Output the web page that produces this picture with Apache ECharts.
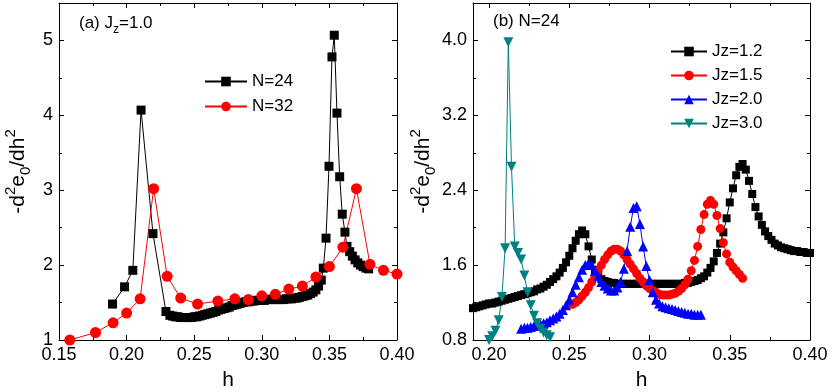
<!DOCTYPE html>
<html>
<head>
<meta charset="utf-8">
<title>-d2e0/dh2 vs h</title>
<script src="https://cdn.jsdelivr.net/npm/echarts@6/dist/echarts.min.js"></script>
<style>
    html, body { margin: 0; padding: 0; background: #fff; }
    #main { width: 830px; height: 392px; }
</style>
</head>
<body>
<div id="main"></div>
<script>
    // ---- panel (a): Jz = 1.0 ----
    var hN24 = [0.1896, 0.1985, 0.2046, 0.2107, 0.2195, 0.2291,
        0.232, 0.234, 0.236, 0.238, 0.240, 0.242, 0.244, 0.246, 0.248, 0.250,
        0.252, 0.254, 0.256, 0.258, 0.260, 0.262, 0.264, 0.266, 0.268, 0.270,
        0.272, 0.274, 0.276, 0.278, 0.280, 0.282, 0.284, 0.286, 0.288, 0.290,
        0.292, 0.294, 0.296, 0.298, 0.300, 0.302, 0.304, 0.306, 0.308, 0.310,
        0.312, 0.314, 0.316, 0.318, 0.320, 0.322, 0.324, 0.326, 0.328, 0.330,
        0.332, 0.334, 0.336, 0.338, 0.340, 0.342, 0.344,
        0.3455, 0.3475, 0.3497, 0.3519, 0.3536, 0.3556, 0.3576, 0.3595, 0.3615,
        0.363, 0.365, 0.367, 0.369, 0.371, 0.373, 0.375, 0.377, 0.379];
    var vN24 = [1.48, 1.71, 1.93, 4.07, 2.42, 1.38,
        1.33, 1.32, 1.31, 1.31, 1.30, 1.30, 1.30, 1.30, 1.30, 1.31,
        1.31, 1.32, 1.33, 1.34, 1.35, 1.36, 1.37, 1.38, 1.40, 1.41,
        1.42, 1.43, 1.44, 1.46, 1.47, 1.48, 1.49, 1.50, 1.51, 1.51,
        1.52, 1.52, 1.53, 1.53, 1.53, 1.53, 1.54, 1.54, 1.54, 1.54,
        1.54, 1.54, 1.54, 1.55, 1.55, 1.55, 1.56, 1.56, 1.57, 1.58,
        1.59, 1.60, 1.62, 1.64, 1.67, 1.72, 1.80,
        1.96, 2.36, 3.32, 4.78, 5.07, 4.03, 3.18, 2.68, 2.44,
        2.25, 2.18, 2.12, 2.07, 2.03, 2.00, 1.98, 1.96, 1.95];

    var hN32 = [0.158, 0.177, 0.190, 0.200, 0.210, 0.220, 0.230, 0.240, 0.2525, 0.2675, 0.280, 0.290,
        0.300, 0.310, 0.320, 0.330, 0.340, 0.350, 0.360, 0.370, 0.380, 0.390, 0.400];
    var vN32 = [1.00, 1.10, 1.23, 1.36, 1.55, 3.02, 1.85, 1.56, 1.48, 1.52, 1.55, 1.54,
        1.59, 1.61, 1.68, 1.72, 1.84, 1.98, 2.24, 3.02, 2.01, 1.93, 1.88];

    // ---- panel (b): N = 24 ----
    var hJz12 = [0.190, 0.192, 0.194, 0.196, 0.198, 0.200, 0.202, 0.204, 0.206, 0.208,
        0.210, 0.212, 0.214, 0.216, 0.218, 0.220, 0.222, 0.224, 0.226, 0.228,
        0.230, 0.232, 0.234, 0.236, 0.238, 0.240, 0.242, 0.244, 0.246, 0.248,
        0.250, 0.252, 0.254, 0.256, 0.258, 0.260, 0.262, 0.264, 0.266, 0.268,
        0.270, 0.272, 0.274, 0.276, 0.278, 0.280, 0.282, 0.284, 0.286, 0.288,
        0.290, 0.292, 0.294, 0.296, 0.298, 0.300, 0.302, 0.304, 0.306, 0.308,
        0.310, 0.312, 0.314, 0.316, 0.318, 0.320, 0.322, 0.324, 0.326, 0.328,
        0.330, 0.332, 0.334, 0.336, 0.338, 0.340, 0.342, 0.344, 0.346, 0.348,
        0.350, 0.352, 0.354, 0.356, 0.358, 0.360, 0.362, 0.364, 0.366, 0.368,
        0.370, 0.372, 0.374, 0.376, 0.378, 0.380, 0.382, 0.384, 0.386, 0.388,
        0.390, 0.392, 0.394, 0.396, 0.398, 0.400];
    var vJz12 = [1.14, 1.15, 1.16, 1.17, 1.18, 1.19, 1.19, 1.20, 1.21, 1.22,
        1.23, 1.24, 1.25, 1.26, 1.27, 1.28, 1.29, 1.30, 1.31, 1.32,
        1.34, 1.35, 1.37, 1.39, 1.42, 1.45, 1.48, 1.52, 1.57, 1.63,
        1.70, 1.78, 1.86, 1.93, 1.97, 1.93, 1.80, 1.66, 1.55, 1.48,
        1.45, 1.43, 1.42, 1.41, 1.41, 1.40, 1.40, 1.40, 1.40, 1.40,
        1.40, 1.40, 1.40, 1.40, 1.40, 1.40, 1.40, 1.40, 1.40, 1.40,
        1.40, 1.40, 1.40, 1.40, 1.40, 1.40, 1.41, 1.41, 1.42, 1.43,
        1.44, 1.46, 1.48, 1.52, 1.57, 1.64, 1.73, 1.83, 1.95, 2.10,
        2.27, 2.42, 2.56, 2.65, 2.68, 2.62, 2.50, 2.36, 2.22, 2.12,
        2.03, 1.96, 1.91, 1.87, 1.83, 1.81, 1.79, 1.78, 1.77, 1.76,
        1.75, 1.75, 1.74, 1.74, 1.73, 1.73];

    var hJz15 = [0.252, 0.254, 0.256, 0.258, 0.260, 0.262, 0.264, 0.266, 0.268, 0.270,
        0.272, 0.274, 0.276, 0.278, 0.280, 0.282, 0.284, 0.286, 0.288, 0.290,
        0.292, 0.294, 0.296, 0.298, 0.300, 0.302, 0.304, 0.306, 0.308, 0.310,
        0.312, 0.314, 0.316, 0.318, 0.320, 0.322, 0.324, 0.326, 0.328, 0.330,
        0.332, 0.334, 0.336, 0.338, 0.340, 0.342, 0.344, 0.346, 0.348, 0.350,
        0.352, 0.354, 0.356, 0.358];
    var vJz15 = [1.18, 1.20, 1.23, 1.27, 1.31, 1.36, 1.42, 1.48, 1.54, 1.60,
        1.66, 1.71, 1.75, 1.77, 1.77, 1.75, 1.71, 1.66, 1.61, 1.56,
        1.51, 1.46, 1.42, 1.38, 1.35, 1.33, 1.31, 1.29, 1.28, 1.28,
        1.28, 1.29, 1.30, 1.32, 1.35, 1.39, 1.45, 1.54, 1.65, 1.80,
        1.98, 2.14, 2.25, 2.29, 2.25, 2.13, 1.99, 1.84, 1.72, 1.63,
        1.58, 1.54, 1.50, 1.46];

    var hJz20 = [0.220, 0.222, 0.224, 0.226, 0.228, 0.230, 0.232, 0.234, 0.236, 0.238,
        0.240, 0.242, 0.244, 0.246, 0.248, 0.250, 0.252, 0.254, 0.256, 0.258,
        0.260, 0.262, 0.264, 0.266, 0.268, 0.270, 0.272, 0.274, 0.276, 0.278,
        0.280, 0.282, 0.284, 0.286, 0.288, 0.290, 0.292, 0.294, 0.296, 0.298,
        0.300, 0.302, 0.304, 0.306, 0.308, 0.310, 0.312, 0.314, 0.316, 0.318,
        0.320, 0.322, 0.324, 0.326, 0.328, 0.330, 0.332];
    var vJz20 = [0.92, 0.93, 0.93, 0.94, 0.95, 0.96, 0.97, 0.98, 0.99, 1.01,
        1.03, 1.05, 1.08, 1.12, 1.17, 1.23, 1.31, 1.39, 1.47, 1.55,
        1.60, 1.62, 1.60, 1.54, 1.48, 1.42, 1.38, 1.35, 1.33, 1.33,
        1.36, 1.42, 1.56, 1.75, 2.01, 2.21, 2.23, 2.04, 1.80, 1.59,
        1.44, 1.31, 1.23, 1.19, 1.16, 1.15, 1.14, 1.13, 1.12, 1.11,
        1.10, 1.09, 1.08, 1.08, 1.07, 1.07, 1.07];

    var hJz30 = [0.200, 0.202, 0.204, 0.206, 0.208, 0.210, 0.212, 0.214, 0.216, 0.218,
        0.220, 0.222, 0.224, 0.226, 0.228, 0.230, 0.232, 0.234, 0.236, 0.238];
    var vJz30 = [0.80, 0.84, 0.90, 1.01, 1.26, 1.78, 3.98, 2.65, 1.80, 1.73,
        1.66, 1.49, 1.31, 1.17, 1.06, 0.98, 0.92, 0.88, 0.85, 0.83];

    var FONT = '"Liberation Sans", Arial, Helvetica, sans-serif';

    function pairs(h, v) {
        var out = [];
        for (var i = 0; i < h.length; i++) {
            out.push([h[i], v[i]]);
        }
        return out;
    }

    var tickStyle = {inside: true, length: 5, lineStyle: {color: '#000'}};
    var minorStyle = {show: true, splitNumber: 2, length: 3, lineStyle: {color: '#000'}};
    var lineAxis = {onZero: false, lineStyle: {color: '#000', width: 1}};

    function fmt(digits) {
        return function (v) { return v.toFixed(digits); };
    }

    function xAxes(grid, min, max, extra) {
        var main = {
            gridIndex: grid, type: 'value', min: min, max: max, position: 'bottom',
            axisLine: lineAxis, axisTick: tickStyle, minorTick: minorStyle,
            splitLine: {show: false},
            axisLabel: {color: '#000', fontSize: 18, fontFamily: FONT, margin: 6,
                showMinLabel: grid === 0, formatter: fmt(2)},
            name: 'h', nameLocation: 'middle', nameGap: 30,
            nameTextStyle: {color: '#000', fontSize: 21, fontFamily: FONT}
        };
        var mirror = {
            gridIndex: grid, type: 'value', min: min, max: max, position: 'top',
            axisLine: lineAxis, axisTick: tickStyle, minorTick: minorStyle,
            splitLine: {show: false}, axisLabel: {show: false}
        };
        Object.assign(main, extra);
        Object.assign(mirror, extra);
        return [main, mirror];
    }

    function yAxes(grid, min, max, interval, digits, gap) {
        var main = {
            gridIndex: grid, type: 'value', min: min, max: max, interval: interval, position: 'left',
            axisLine: lineAxis, axisTick: tickStyle, minorTick: minorStyle,
            splitLine: {show: false},
            axisLabel: {color: '#000', fontSize: 18, fontFamily: FONT, margin: 6, showMaxLabel: false,
                formatter: fmt(digits)},
            name: '-d{sup|2}e{sub|0}/dh{sup|2}', nameLocation: 'middle', nameGap: gap,
            nameTextStyle: {color: '#000', fontSize: 21, fontFamily: FONT, lineHeight: 30,
                rich: {
                    sup: {fontSize: 15, fontFamily: FONT, color: '#000', verticalAlign: 'top'},
                    sub: {fontSize: 15, fontFamily: FONT, color: '#000', verticalAlign: 'bottom'}
                }}
        };
        var mirror = {
            gridIndex: grid, type: 'value', min: min, max: max, interval: interval, position: 'right',
            axisLine: lineAxis, axisTick: tickStyle, minorTick: minorStyle,
            splitLine: {show: false}, axisLabel: {show: false}
        };
        return [main, mirror];
    }

    function lineSeries(name, xi, yi, data, color, symbol, size, rotate) {
        return {
            name: name, type: 'line', xAxisIndex: xi, yAxisIndex: yi,
            data: data, symbol: symbol, symbolSize: size, symbolRotate: rotate || 0,
            showSymbol: true, showAllSymbol: true,
            lineStyle: {color: color, width: 1},
            itemStyle: {color: color, borderWidth: 0},
            emphasis: {disabled: true}
        };
    }

    var myChart = echarts.init(document.getElementById('main'), null, {renderer: 'canvas'});

    myChart.setOption({
        animation: false,
        backgroundColor: '#fff',
        textStyle: {fontFamily: FONT},
        grid: [
            {left: 59, right: 433, top: 3, bottom: 52, containLabel: false, outerBoundsMode: 'none'},
            {left: 473, right: 20, top: 3, bottom: 52, containLabel: false, outerBoundsMode: 'none'}
        ],
        title: [
            {text: '(a) J{sub|z}=1.0', left: 74, top: 5,
                textStyle: {color: '#000', fontSize: 17, fontWeight: 'normal', fontFamily: FONT, lineHeight: 26,
                    rich: {sub: {fontSize: 12, fontFamily: FONT, color: '#000', verticalAlign: 'bottom'}}}},
            {text: '(b) N=24', left: 488, top: 8,
                textStyle: {color: '#000', fontSize: 17, fontWeight: 'normal', fontFamily: FONT}}
        ],
        legend: [
            {data: ['N=24', 'N=32'], orient: 'vertical', left: 199, top: 68,
                itemWidth: 42, itemHeight: 12, itemGap: 8,
                textStyle: {color: '#000', fontSize: 17, fontFamily: FONT}},
            {data: ['Jz=1.2', 'Jz=1.5', 'Jz=2.0', 'Jz=3.0'], orient: 'vertical', left: 665, top: 38,
                itemWidth: 36, itemHeight: 12, itemGap: 7,
                textStyle: {color: '#000', fontSize: 17, fontFamily: FONT}}
        ],
        // left panel starts on a multiple of 0.05; the right one starts at 0.19,
        // so its 0.05 ticks come from min/maxInterval instead of interval
        xAxis: xAxes(0, 0.15, 0.40, {interval: 0.05})
            .concat(xAxes(1, 0.19, 0.40, {minInterval: 0.05, maxInterval: 0.05})),
        yAxis: yAxes(0, 1, 5.5, 1, 0, 26).concat(yAxes(1, 0.8, 4.4, 0.8, 1, 26)),
        series: [
            lineSeries('N=24', 0, 0, pairs(hN24, vN24), '#000000', 'rect', 9),
            lineSeries('N=32', 0, 0, pairs(hN32, vN32), '#ff0000', 'circle', 11),
            lineSeries('Jz=1.2', 2, 2, pairs(hJz12, vJz12), '#000000', 'rect', 8),
            lineSeries('Jz=1.5', 2, 2, pairs(hJz15, vJz15), '#ff0000', 'circle', 9),
            lineSeries('Jz=2.0', 2, 2, pairs(hJz20, vJz20), '#0000ff', 'triangle', 10),
            lineSeries('Jz=3.0', 2, 2, pairs(hJz30, vJz30), '#008080', 'triangle', 10, 180)
        ]
    });
</script>
</body>
</html>
